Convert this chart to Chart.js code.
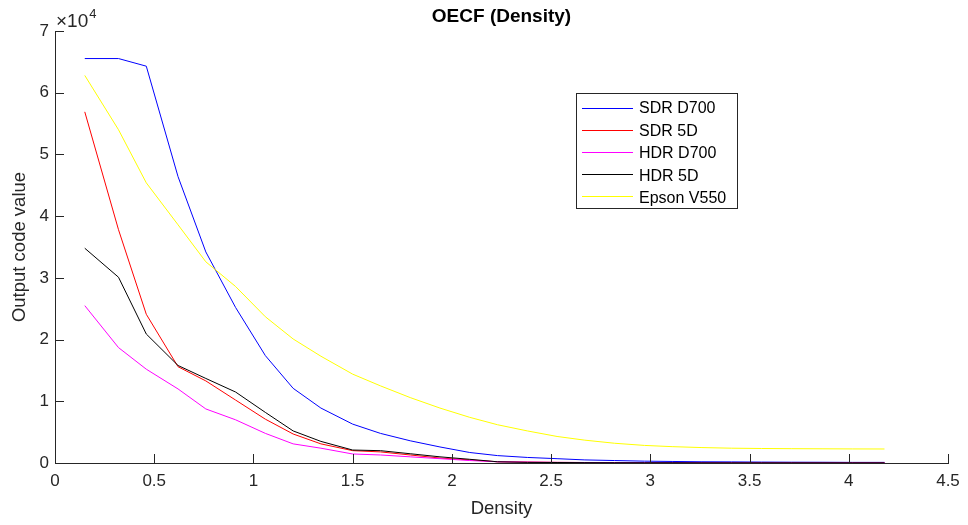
<!DOCTYPE html>
<html>
<head>
<meta charset="utf-8">
<title>OECF (Density)</title>
<script src="https://cdn.jsdelivr.net/npm/chart.js@4.4.1/dist/chart.umd.min.js"></script>
<style>
  html, body { margin: 0; padding: 0; background: #fff; }
  #wrap { width: 968px; height: 525px; position: relative; }
</style>
</head>
<body>
<div id="wrap"><canvas id="oecfChart"></canvas></div>
<script>
// step wedge densities (x)
var density = [0.15, 0.32, 0.46, 0.62, 0.76, 0.91, 1.06, 1.20, 1.34, 1.50,
  1.64, 1.79, 1.94, 2.09, 2.23, 2.38, 2.53, 2.67, 2.82, 2.97,
  3.11, 3.26, 3.41, 3.56, 3.71, 3.87, 4.02, 4.18];

// output code values per device
var sdrD700 = [65535, 65535, 64300, 46400, 34200, 25200, 17400, 12100, 8900, 6300,
  4800, 3600, 2600, 1700, 1200, 900, 700, 500, 400, 300,
  250, 200, 180, 150, 130, 120, 100, 100];
var sdr5D = [56900, 37800, 24100, 15600, 13300, 10200, 7100, 4700, 3100, 2000,
  1800, 1300, 800, 500, 200, 150, 100, 80, 60, 50,
  40, 40, 30, 30, 30, 30, 30, 30];
var hdrD700 = [25500, 18700, 15200, 12000, 8760, 7000, 4800, 3100, 2400, 1460,
  1300, 1000, 700, 400, 200, 150, 100, 80, 60, 50,
  40, 40, 30, 30, 30, 30, 30, 30];
var hdr5D = [34800, 30100, 20900, 15800, 13700, 11500, 8200, 5200, 3500, 2100,
  2000, 1500, 1000, 600, 200, 100, 80, 60, 50, 40,
  40, 30, 30, 30, 30, 30, 30, 30];
var epsonV550 = [62800, 54000, 45400, 38600, 32600, 28600, 23700, 20100, 17300, 14400,
  12500, 10600, 8900, 7400, 6200, 5200, 4300, 3700, 3200, 2850,
  2650, 2500, 2400, 2350, 2320, 2300, 2280, 2270];

var seriesNames = ['SDR D700', 'SDR 5D', 'HDR D700', 'HDR 5D', 'Epson V550'];
var seriesValues = [sdrD700, sdr5D, hdrD700, hdr5D, epsonV550];
var seriesColors = ['#0000ff', '#ff0000', '#ff00ff', '#000000', '#ffff00'];

var xTicksMax = 4.5;
var yTicksMax = 70000;

Chart.defaults.font.family = '"Liberation Sans", Arial, Helvetica, sans-serif';
Chart.defaults.color = '#262626';

var datasets = seriesNames.map(function (name, i) {
  return {
    label: name,
    data: density.map(function (d, j) { return { x: d, y: seriesValues[i][j] }; }),
    borderColor: seriesColors[i],
    backgroundColor: seriesColors[i],
    borderWidth: 1,
    pointRadius: 0,
    tension: 0,
    fill: false,
    order: seriesNames.length - i // later series on top, like matlab
  };
});

// matlab-style ticks that point into the axes
var innerTicks = {
  id: 'innerTicks',
  afterDatasetsDraw: function (chart) {
    var ctx = chart.ctx, a = chart.chartArea;
    var x = chart.scales.x, y = chart.scales.y;
    ctx.save();
    ctx.strokeStyle = '#262626';
    ctx.lineWidth = 1;
    ctx.beginPath();
    x.ticks.forEach(function (t) {
      var px = Math.round(x.getPixelForValue(t.value)) + 0.5;
      ctx.moveTo(px, a.bottom);
      ctx.lineTo(px, a.bottom - 9);
    });
    y.ticks.forEach(function (t) {
      var py = Math.round(y.getPixelForValue(t.value)) + 0.5;
      ctx.moveTo(a.left, py);
      ctx.lineTo(a.left + 9, py);
    });
    ctx.stroke();
    ctx.restore();
  }
};

// title, exponent label and the boxed legend
var decorations = {
  id: 'decorations',
  afterDraw: function (chart) {
    var ctx = chart.ctx, a = chart.chartArea;
    ctx.save();
    ctx.fillStyle = '#000';
    ctx.font = 'bold 19px "Liberation Sans", Arial, sans-serif';
    ctx.textAlign = 'center';
    ctx.textBaseline = 'middle';
    ctx.fillText('OECF (Density)', (a.left + a.right) / 2, 17);

    // x10^4
    ctx.fillStyle = '#262626';
    ctx.textAlign = 'left';
    ctx.textBaseline = 'alphabetic';
    ctx.font = '19px "Liberation Sans", Arial, sans-serif';
    ctx.fillText('\u00d710', a.left + 1, 27);
    var w = ctx.measureText('\u00d710').width;
    ctx.font = '13px "Liberation Sans", Arial, sans-serif';
    ctx.fillText('4', a.left + 2 + w, 18);

    // legend
    var bx = 576, by = 93, bw = 161, bh = 115;
    ctx.fillStyle = '#fff';
    ctx.fillRect(bx, by, bw, bh);
    ctx.strokeStyle = '#262626';
    ctx.lineWidth = 1;
    ctx.strokeRect(bx + 0.5, by + 0.5, bw, bh);
    ctx.font = '16px "Liberation Sans", Arial, sans-serif';
    ctx.textBaseline = 'middle';
    chart.data.datasets.forEach(function (ds, i) {
      var yy = by + 15 + i * 22;
      ctx.fillStyle = ds.borderColor;
      ctx.fillRect(bx + 6, yy, 51, 1);
      ctx.fillStyle = '#000';
      ctx.fillText(ds.label, bx + 63, by + 15.5 + i * 22.6);
    });
    ctx.restore();
  }
};

var ctx = document.getElementById('oecfChart');

var oecfChart = new Chart(ctx, {
  type: 'line',
  data: { datasets: datasets },
  options: {
    responsive: true,
    maintainAspectRatio: false,
    animation: false,
    layout: { padding: { top: 31, right: 20, bottom: 0, left: 0 } },
    plugins: {
      legend: { display: false },
      tooltip: { enabled: false },
      title: { display: false }
    },
    scales: {
      x: {
        type: 'linear',
        min: 0,
        max: xTicksMax,
        afterFit: function (s) { s.height = 62; },
        grid: { drawOnChartArea: false, drawTicks: false },
        border: { display: true, color: '#262626', width: 1 },
        ticks: {
          stepSize: 0.5,
          padding: 8,
          font: { size: 17 },
          color: '#262626',
          maxRotation: 0,
          callback: function (v) { return String(Math.round(v * 10) / 10); }
        },
        title: { display: true, text: 'Density', font: { size: 18.5 }, color: '#262626', padding: { top: 0, bottom: 5 } }
      },
      y: {
        type: 'linear',
        min: 0,
        max: yTicksMax,
        afterFit: function (s) { s.width = 55; },
        grid: { drawOnChartArea: false, drawTicks: false },
        border: { display: true, color: '#262626', width: 1 },
        ticks: {
          stepSize: 10000,
          padding: 6,
          font: { size: 17 },
          color: '#262626',
          callback: function (v) { return v / 10000; }
        },
        title: { display: true, text: 'Output code value', font: { size: 18.5 }, color: '#262626', padding: { top: 9, bottom: 0 } }
      }
    }
  },
  plugins: [innerTicks, decorations]
});
</script>
</body>
</html>
